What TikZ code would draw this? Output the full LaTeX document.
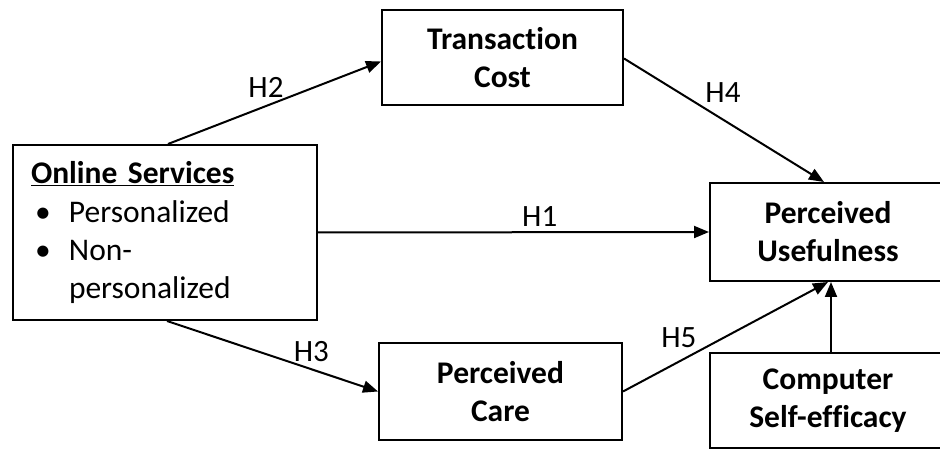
\documentclass[tikz,border=0pt]{standalone}
\usepackage{fontspec}
\setmainfont{Carlito}[Ligatures=NoCommon]
\usetikzlibrary{arrows.meta}
\begin{document}
\begin{tikzpicture}[x=1pt,y=1pt,
  box/.style={draw,line width=2pt,rectangle,inner sep=0pt,align=center,
    font=\bfseries\fontsize{31.5}{38}\selectfont},
  conn/.style={line width=2pt,-{Triangle[length=15pt,width=12pt]}},
  hlab/.style={font=\fontsize{31}{36}\selectfont,inner sep=0pt}]
\useasboundingbox (0,0) rectangle (940,450);
\fill[white] (0,0) rectangle (940,450);
\node[box,minimum width=241pt,minimum height=95pt] (tc) at (502.5,392.5) {Transaction\\Cost};
\node[draw,line width=2pt,rectangle,minimum width=304pt,minimum height=175pt,
  text width=268pt,inner xsep=18pt,inner ysep=0pt,align=left,
  font=\fontsize{31.5}{38}\selectfont] (os) at (165,217.5)
  {\underline{\textbf{Online Services}}\\[1pt]
   \makebox[38pt][l]{\hspace{4pt}\textbullet}Personalized\\
   \makebox[38pt][l]{\hspace{4pt}\textbullet}Non-\\
   \makebox[38pt][l]{}personalized};
\node[box,minimum width=236pt,minimum height=98pt] (pu) at (828,218) {Perceived\\Usefulness};
\node[box,minimum width=243pt,minimum height=97pt] (pc) at (500.5,58.5) {Perceived\\Care};
\node[box,minimum width=236pt,minimum height=95pt] (cs) at (828,49.5) {Computer\\Self-efficacy};
\draw[conn] ([xshift=3pt]os.north) -- ([yshift=-4pt]tc.west)
  node[hlab,pos=0.46,yshift=19pt] (h2) {H2};
\draw[conn] ([yshift=-1pt]tc.east) -- ([xshift=-4pt]pu.north)
  node[hlab,pos=0.495,yshift=27pt] (h4) {H4};
\draw[conn] (os.east) -- (pu.west)
  node[hlab,pos=0.567,yshift=16pt] (h1) {H1};
\draw[conn] ([xshift=2pt]os.south) -- (pc.west)
  node[hlab,pos=0.684,yshift=18pt] (h3) {H3};
\draw[conn] (pc.east) -- (pu.south)
  node[hlab,pos=0.272,yshift=24pt] (h5) {H5};
\draw[conn] ([xshift=3pt]cs.north) -- ([xshift=3pt]pu.south);
\end{tikzpicture}
\end{document}
